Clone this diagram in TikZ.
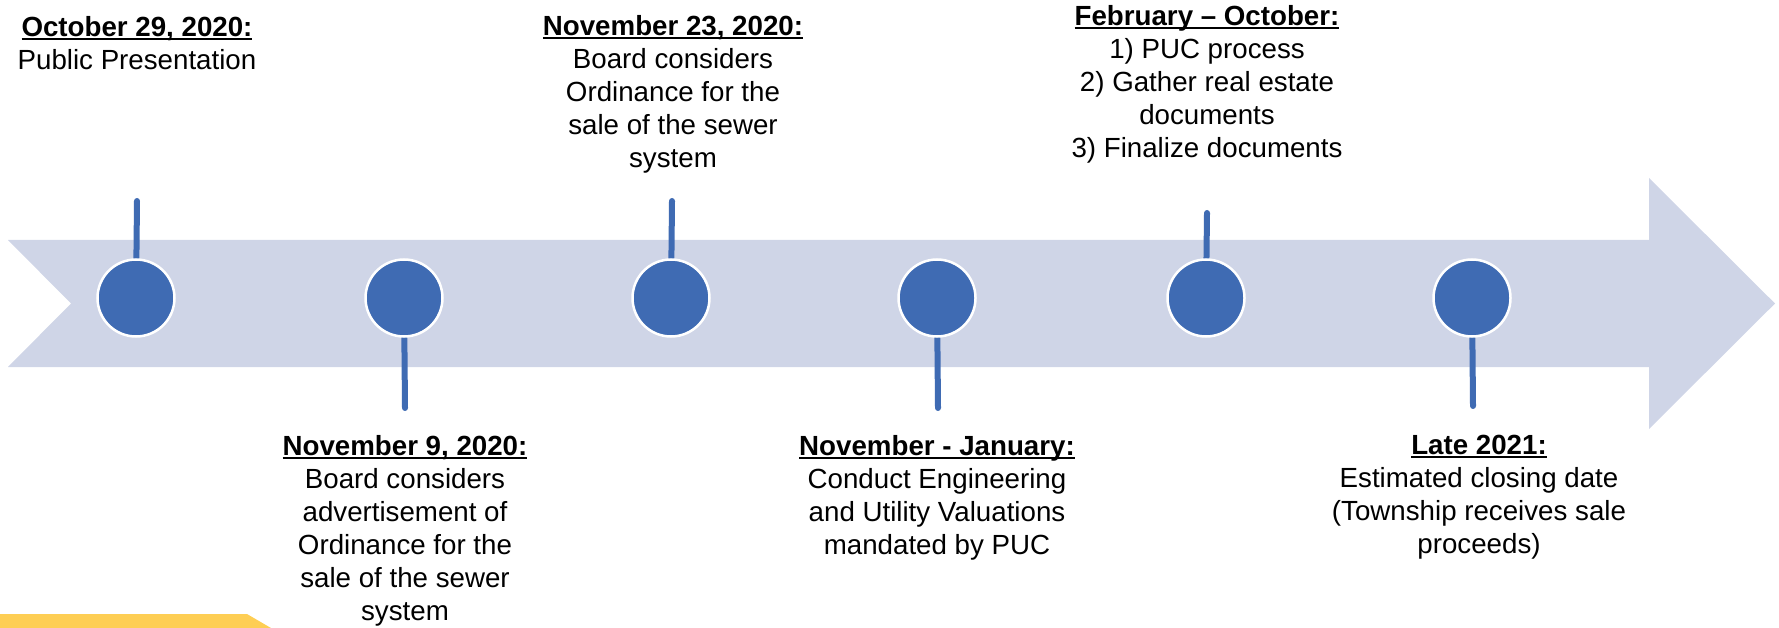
\documentclass[tikz,border=0pt]{standalone}
\usepackage{fontspec}
\setmainfont{Liberation Sans}
\pgfdeclarelayer{back}
\pgfsetlayers{back,main}
\definecolor{band}{HTML}{CFD5E7}
\definecolor{dotblue}{HTML}{3F6BB3}
\definecolor{gold}{HTML}{FECE54}
\newcommand{\hdr}[1]{\setbox0\hbox{\bfseries #1}\rlap{\rule[-3.5pt]{\wd0}{1.8pt}}\box0}
\tikzset{
  dot/.style={circle, fill=dotblue, draw=white, line width=2.5pt, minimum size=77pt, inner sep=0pt},
  stem/.style={draw=dotblue, line width=6pt, line cap=round},
  lbl/.style={anchor=north, inner sep=0pt, align=center, font=\fontsize{27.7}{33}\selectfont}
}
\begin{document}
\begin{tikzpicture}[x=1pt,y=-1pt]
\useasboundingbox (0,0) rectangle (1779,628);
% band arrow
\begin{pgfonlayer}{back}
\fill[band] (8,240) -- (1649,240) -- (1649,178) -- (1775,303.5) -- (1649,429) -- (1649,367) -- (8,367) -- (71,303.5) -- cycle;
\end{pgfonlayer}
\fill[gold] (0,614) -- (247,614) -- (271,628) -- (0,628) -- cycle;
% dots
\node[dot] (c1) at (136,298) {};
\node[dot] (c2) at (404,298) {};
\node[dot] (c3) at (671,298) {};
\node[dot] (c4) at (937,298) {};
\node[dot] (c5) at (1206,298) {};
\node[dot] (c6) at (1472,298) {};
% stem ends
\coordinate (t1) at (137,201);
\coordinate (t2) at (405,408);
\coordinate (t3) at (672,201);
\coordinate (t4) at (938,408);
\coordinate (t5) at (1207,213);
\coordinate (t6) at (1473,406);
\begin{pgfonlayer}{back}
\draw[stem] (c1.center) -- (t1);
\draw[stem] (c2.center) -- (t2);
\draw[stem] (c3.center) -- (t3);
\draw[stem] (c4.center) -- (t4);
\draw[stem] (c5.center) -- (t5);
\draw[stem] (c6.center) -- (t6);
\end{pgfonlayer}
% labels
\node[lbl] (l1) at (137,16) {\hdr{October 29, 2020:}\\Public Presentation};
\node[lbl] (l3) at (673,15) {\hdr{November 23, 2020:}\\Board considers\\Ordinance for the\\sale of the sewer\\system};
\node[lbl] (l5) at (1207,5) {\hdr{February – October:}\\1) PUC process\\2) Gather real estate\\documents\\3) Finalize documents};
\node[lbl] (l2) at (405,435) {\hdr{November 9, 2020:}\\Board considers\\advertisement of\\Ordinance for the\\sale of the sewer\\system};
\node[lbl] (l4) at (937,435) {\hdr{November - January:}\\Conduct Engineering\\and Utility Valuations\\mandated by PUC};
\node[lbl] (l6) at (1479,435) {\hdr{Late 2021:}\\Estimated closing date\\(Township receives sale\\proceeds)};
\end{tikzpicture}
\end{document}
